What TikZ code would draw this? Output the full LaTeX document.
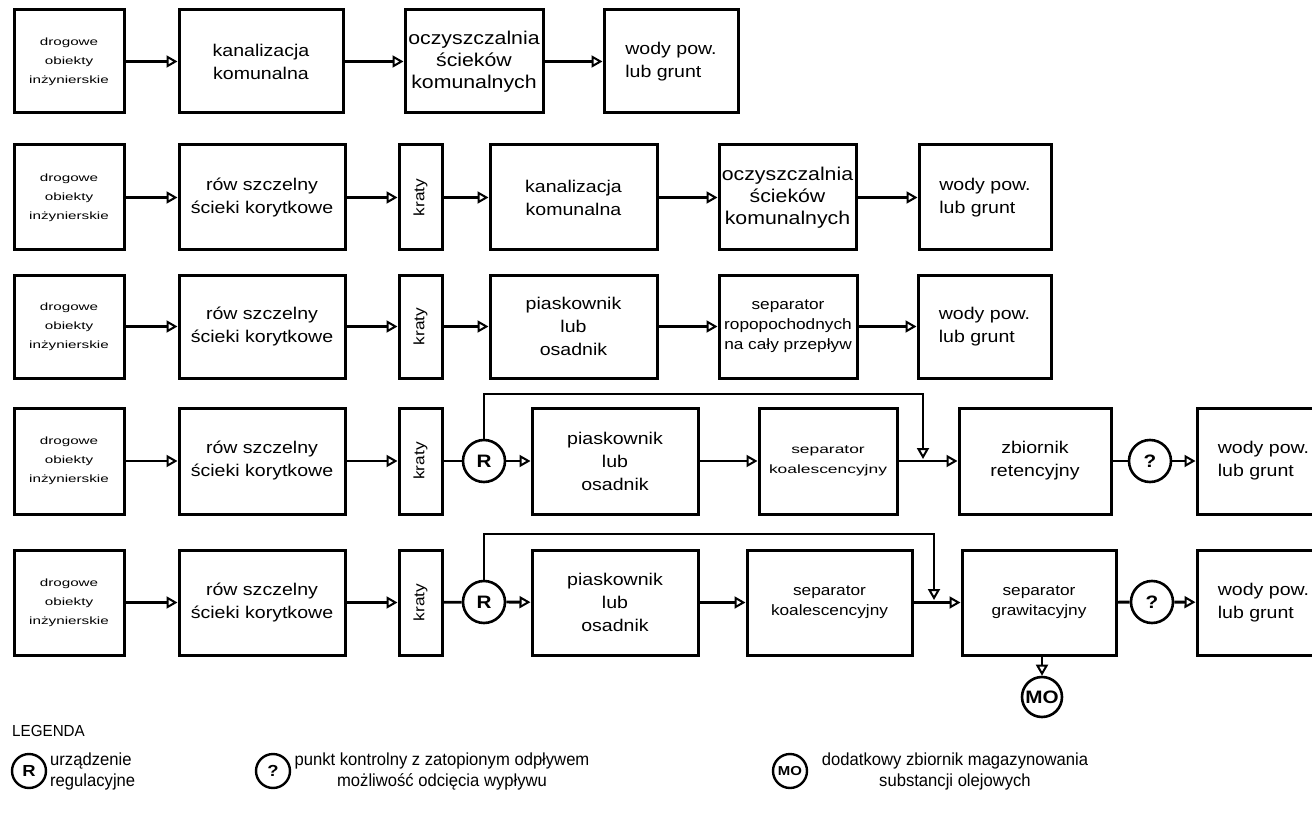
\documentclass[tikz,border=0pt]{standalone}
\usepackage{fontspec}
\setmainfont{Liberation Sans}[FakeStretch=1.15]
\newfontfamily\squashfam{Liberation Sans}[FakeStretch=1.45]
\newfontfamily\condfam{Liberation Sans}[FakeStretch=0.95]
\usetikzlibrary{arrows.meta}
\newcommand\fzBig{\fontsize{17}{23}\selectfont}
\newcommand\fzOcz{\fontsize{18.5}{22}\selectfont}
\newcommand\fzSm{\squashfam\fontsize{10.5}{19}\selectfont}
\newcommand\fzKo{\squashfam\fontsize{12}{20}\selectfont}
\newcommand\fzMid{\fontsize{15}{20}\selectfont}
\newcommand\fzLeg{\condfam\fontsize{17.5}{21}\selectfont}
\newcommand\fzCirc{\bfseries\fontsize{18}{20}\selectfont}
% [opts]{name}{x1}{x2}{y1}{y2}{font}{text}
\newcommand\mybox[8][]{%
  \node[box, minimum width={(#4-#3)*1pt}, minimum height={(#6-#5)*1pt}, font=#7, #1]
    (#2) at ({(#3+#4)/2},{(#5+#6)/2}) {#8};}
\tikzset{
  box/.style={draw, line width=3pt, fill=white, inner sep=0pt, align=center},
  circ/.style={draw, circle, line width=2.6pt, fill=white, inner sep=0pt, minimum size=42pt, font=\fzCirc},
  flow/.style={line width=2.8pt, -{Triangle[open, length=11pt, width=12pt, line width=2pt]}},
  plain/.style={line width=2.8pt},
  bypass/.style={line width=2.2pt, -{Triangle[open, length=11pt, width=12pt, line width=2pt]}},
  legcirc/.style={draw, circle, line width=2.4pt, inner sep=0pt, minimum size=34pt, font=\bfseries\fontsize{16}{18}\selectfont},
}
\begin{document}
\begin{tikzpicture}[x=1pt,y=-1pt]
\useasboundingbox (0,0) rectangle (1312,813);
\fill[white] (0,0) rectangle (1312,813);

% ---------- Row 1
\mybox{a1}{14}{124}{10}{113}{\fzSm}{drogowe\\obiekty\\inżynierskie}
\mybox{a2}{179}{343}{10}{113}{\fzBig}{kanalizacja\\komunalna}
\mybox{a3}{405}{543}{10}{113}{\fzOcz}{oczyszczalnia\\ścieków\\komunalnych}
\mybox[align=left]{a4}{604}{738}{10}{113}{\fzBig}{wody pow.\\lub grunt}
\draw[flow] (a1) -- (a2);
\draw[flow] (a2) -- (a3);
\draw[flow] (a3) -- (a4);

% ---------- Row 2
\mybox{b1}{14}{124}{145}{250}{\fzSm}{drogowe\\obiekty\\inżynierskie}
\mybox{b2}{179}{345}{145}{250}{\fzBig}{rów szczelny\\ścieki korytkowe}
\mybox{b3}{399}{442}{145}{250}{\fzMid}{\rotatebox{90}{kraty}}
\mybox{b4}{490}{657}{145}{250}{\fzBig}{kanalizacja\\komunalna}
\mybox{b5}{719}{856}{145}{250}{\fzOcz}{oczyszczalnia\\ścieków\\komunalnych}
\mybox[align=left]{b6}{919}{1051}{145}{250}{\fzBig}{wody pow.\\lub grunt}
\draw[flow] (b1) -- (b2);
\draw[flow] (b2) -- (b3);
\draw[flow] (b3) -- (b4);
\draw[flow] (b4) -- (b5);
\draw[flow] (b5) -- (b6);

% ---------- Row 3
\mybox{c1}{14}{124}{275}{378}{\fzSm}{drogowe\\obiekty\\inżynierskie}
\mybox{c2}{179}{345}{275}{378}{\fzBig}{rów szczelny\\ścieki korytkowe}
\mybox{c3}{399}{442}{275}{378}{\fzMid}{\rotatebox{90}{kraty}}
\mybox{c4}{490}{657}{275}{378}{\fzBig}{piaskownik\\lub\\osadnik}
\mybox{c5}{719}{857}{275}{378}{\fzMid}{separator\\ropopochodnych\\na cały przepływ}
\mybox[align=left]{c6}{918}{1051}{275}{378}{\fzBig}{wody pow.\\lub grunt}
\draw[flow] (c1) -- (c2);
\draw[flow] (c2) -- (c3);
\draw[flow] (c3) -- (c4);
\draw[flow] (c4) -- (c5);
\draw[flow] (c5) -- (c6);

% ---------- Row 4
\mybox{d1}{14}{124}{408}{514}{\fzSm}{drogowe\\obiekty\\inżynierskie}
\mybox{d2}{179}{345}{408}{514}{\fzBig}{rów szczelny\\ścieki korytkowe}
\mybox{d3}{399}{442}{408}{514}{\fzMid}{\rotatebox{90}{kraty}}
\node[circ] (dR) at (484,461) {R};
\mybox{d4}{532}{698}{408}{514}{\fzBig}{piaskownik\\lub\\osadnik}
\mybox{d5}{759}{897}{408}{514}{\fzKo}{separator\\koalescencyjny}
\mybox{d6}{959}{1111}{408}{514}{\fzBig}{zbiornik\\retencyjny}
\node[circ] (dQ) at (1150,461) {?};
\mybox[align=left]{d7}{1197}{1330}{408}{514}{\fzBig}{wody pow.\\lub grunt}
\coordinate (dj) at (923,459);
\draw[flow] (d1) -- (d2);
\draw[flow] (d2) -- (d3);
\draw[plain] (d3) -- (dR);
\draw[flow] (dR) -- (d4);
\draw[flow] (d4) -- (d5);
\draw[flow] (d5) -- (d6);
\draw[plain] (d6) -- (dQ);
\draw[flow] (dQ) -- (d7);
\draw[bypass] (dR.north) -- ++(0,-45) -| (dj);

% ---------- Row 5
\mybox{e1}{14}{124}{550}{655}{\fzSm}{drogowe\\obiekty\\inżynierskie}
\mybox{e2}{179}{345}{550}{655}{\fzBig}{rów szczelny\\ścieki korytkowe}
\mybox{e3}{399}{442}{550}{655}{\fzMid}{\rotatebox{90}{kraty}}
\node[circ] (eR) at (484,602) {R};
\mybox{e4}{532}{698}{550}{655}{\fzBig}{piaskownik\\lub\\osadnik}
\mybox{e5}{747}{912}{550}{655}{\fzMid}{separator\\koalescencyjny}
\mybox{e6}{962}{1116}{550}{655}{\fzMid}{separator\\grawitacyjny}
\node[circ] (eQ) at (1152,602) {?};
\mybox[align=left]{e7}{1197}{1330}{550}{655}{\fzBig}{wody pow.\\lub grunt}
\node[circ, minimum size=40pt] (eM) at (1042,697) {MO};
\coordinate (ej) at (934,600);
\draw[flow] (e1) -- (e2);
\draw[flow] (e2) -- (e3);
\draw[plain] (e3) -- (eR);
\draw[flow] (eR) -- (e4);
\draw[flow] (e4) -- (e5);
\draw[flow] (e5) -- (e6);
\draw[plain] (e6) -- (eQ);
\draw[flow] (eQ) -- (e7);
\draw[bypass] (eR.north) -- ++(0,-46) -| (ej);
\draw[flow] (e6.south -| eM) -- (eM.north);

% ---------- Legend
\node[anchor=west, font=\condfam\fontsize{16}{18}\selectfont, inner sep=0pt] (leg) at (12,731) {LEGENDA};
\node[legcirc] (lR) at (29,771) {R};
\node[anchor=west, align=left, font=\fzLeg, inner sep=0pt] (lRt) at (50,771) {urządzenie\\regulacyjne};
\node[legcirc] (lQ) at (273,771) {?};
\node[align=center, font=\fzLeg, inner sep=0pt] (lQt) at (442,771) {punkt kontrolny z zatopionym odpływem\\możliwość odcięcia wypływu};
\node[legcirc, font=\bfseries\fontsize{13}{16}\selectfont] (lM) at (790,771) {MO};
\node[align=center, font=\fzLeg, inner sep=0pt] (lMt) at (955,771) {dodatkowy zbiornik magazynowania\\substancji olejowych};
\end{tikzpicture}
\end{document}
